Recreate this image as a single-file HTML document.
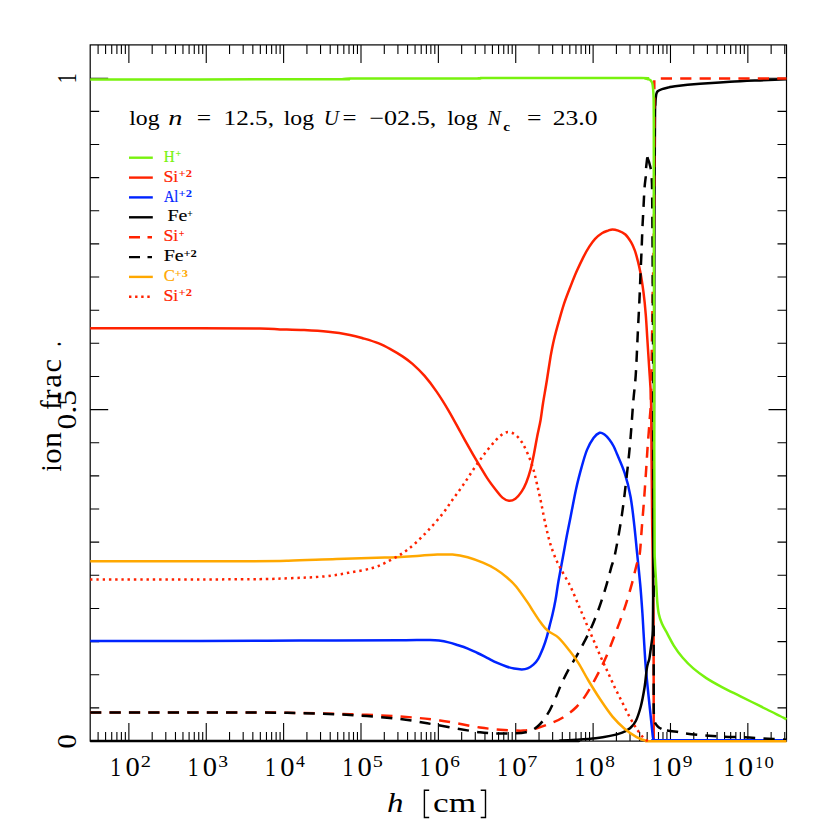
<!DOCTYPE html><html><head><meta charset="utf-8"><title>ion frac</title>
<style>html,body{margin:0;padding:0;background:#fff;}svg{display:block;}text{font-family:"Liberation Serif",serif;}</style></head><body>
<svg width="830" height="830" viewBox="0 0 830 830">
<rect width="830" height="830" fill="#fff"/>
<path d="M98.10,44.9v9M98.10,741.1v-9M105.59,44.9v9M105.59,741.1v-9M111.72,44.9v9M111.72,741.1v-9M116.90,44.9v9M116.90,741.1v-9M121.39,44.9v9M121.39,741.1v-9M125.34,44.9v9M125.34,741.1v-9M128.88,44.9v18M128.88,741.1v-18M152.18,44.9v9M152.18,741.1v-9M165.80,44.9v9M165.80,741.1v-9M175.47,44.9v9M175.47,741.1v-9M182.96,44.9v9M182.96,741.1v-9M189.09,44.9v9M189.09,741.1v-9M194.27,44.9v9M194.27,741.1v-9M198.76,44.9v9M198.76,741.1v-9M202.71,44.9v9M202.71,741.1v-9M206.25,44.9v18M206.25,741.1v-18M229.55,44.9v9M229.55,741.1v-9M243.17,44.9v9M243.17,741.1v-9M252.84,44.9v9M252.84,741.1v-9M260.33,44.9v9M260.33,741.1v-9M266.46,44.9v9M266.46,741.1v-9M271.64,44.9v9M271.64,741.1v-9M276.13,44.9v9M276.13,741.1v-9M280.08,44.9v9M280.08,741.1v-9M283.62,44.9v18M283.62,741.1v-18M306.92,44.9v9M306.92,741.1v-9M320.54,44.9v9M320.54,741.1v-9M330.21,44.9v9M330.21,741.1v-9M337.70,44.9v9M337.70,741.1v-9M343.83,44.9v9M343.83,741.1v-9M349.01,44.9v9M349.01,741.1v-9M353.50,44.9v9M353.50,741.1v-9M357.45,44.9v9M357.45,741.1v-9M361.00,44.9v18M361.00,741.1v-18M384.29,44.9v9M384.29,741.1v-9M397.91,44.9v9M397.91,741.1v-9M407.58,44.9v9M407.58,741.1v-9M415.07,44.9v9M415.07,741.1v-9M421.20,44.9v9M421.20,741.1v-9M426.38,44.9v9M426.38,741.1v-9M430.87,44.9v9M430.87,741.1v-9M434.82,44.9v9M434.82,741.1v-9M438.37,44.9v18M438.37,741.1v-18M461.66,44.9v9M461.66,741.1v-9M475.28,44.9v9M475.28,741.1v-9M484.95,44.9v9M484.95,741.1v-9M492.44,44.9v9M492.44,741.1v-9M498.57,44.9v9M498.57,741.1v-9M503.75,44.9v9M503.75,741.1v-9M508.24,44.9v9M508.24,741.1v-9M512.19,44.9v9M512.19,741.1v-9M515.74,44.9v18M515.74,741.1v-18M539.03,44.9v9M539.03,741.1v-9M552.65,44.9v9M552.65,741.1v-9M562.32,44.9v9M562.32,741.1v-9M569.81,44.9v9M569.81,741.1v-9M575.94,44.9v9M575.94,741.1v-9M581.12,44.9v9M581.12,741.1v-9M585.61,44.9v9M585.61,741.1v-9M589.56,44.9v9M589.56,741.1v-9M593.11,44.9v18M593.11,741.1v-18M616.40,44.9v9M616.40,741.1v-9M630.02,44.9v9M630.02,741.1v-9M639.69,44.9v9M639.69,741.1v-9M647.18,44.9v9M647.18,741.1v-9M653.31,44.9v9M653.31,741.1v-9M658.49,44.9v9M658.49,741.1v-9M662.98,44.9v9M662.98,741.1v-9M666.93,44.9v9M666.93,741.1v-9M670.48,44.9v18M670.48,741.1v-18M693.77,44.9v9M693.77,741.1v-9M707.39,44.9v9M707.39,741.1v-9M717.06,44.9v9M717.06,741.1v-9M724.55,44.9v9M724.55,741.1v-9M730.68,44.9v9M730.68,741.1v-9M735.86,44.9v9M735.86,741.1v-9M740.35,44.9v9M740.35,741.1v-9M744.30,44.9v9M744.30,741.1v-9M747.85,44.9v18M747.85,741.1v-18M771.14,44.9v9M771.14,741.1v-9M784.76,44.9v9M784.76,741.1v-9M90.2,741.00h18M786.5,741.00h-18M90.2,707.86h9M786.5,707.86h-9M90.2,674.72h9M786.5,674.72h-9M90.2,641.58h9M786.5,641.58h-9M90.2,608.44h9M786.5,608.44h-9M90.2,575.30h9M786.5,575.30h-9M90.2,542.16h9M786.5,542.16h-9M90.2,509.02h9M786.5,509.02h-9M90.2,475.88h9M786.5,475.88h-9M90.2,442.74h9M786.5,442.74h-9M90.2,409.60h18M786.5,409.60h-18M90.2,376.46h9M786.5,376.46h-9M90.2,343.32h9M786.5,343.32h-9M90.2,310.18h9M786.5,310.18h-9M90.2,277.04h9M786.5,277.04h-9M90.2,243.90h9M786.5,243.90h-9M90.2,210.76h9M786.5,210.76h-9M90.2,177.62h9M786.5,177.62h-9M90.2,144.48h9M786.5,144.48h-9M90.2,111.34h9M786.5,111.34h-9M90.2,78.20h18M786.5,78.20h-18" stroke="#000" stroke-width="1.1" fill="none"/>
<rect x="90.2" y="44.9" width="696.3" height="696.2" fill="none" stroke="#000" stroke-width="1.2"/>
<g fill="none" stroke-linejoin="round" stroke-linecap="butt">
<path d="M90.2,328.2 C108.5,328.2 171.7,328.1 200.0,328.2 C228.3,328.3 246.7,328.4 260.0,328.6 C273.3,328.8 272.6,329.1 280.0,329.4 C287.4,329.6 296.1,329.7 304.1,330.1 C312.1,330.5 320.6,331.0 328.2,331.8 C335.8,332.6 343.9,333.8 349.9,334.9 C355.9,336.0 359.5,337.2 364.3,338.6 C369.1,340.0 374.4,341.6 378.8,343.4 C383.2,345.2 386.8,347.2 390.8,349.4 C394.8,351.6 399.3,354.2 402.9,356.6 C406.5,359.0 408.9,360.7 412.5,363.9 C416.1,367.1 420.6,371.3 424.6,375.9 C428.6,380.5 432.6,385.8 436.6,391.6 C440.6,397.4 444.7,404.0 448.7,410.8 C452.7,417.6 456.7,425.3 460.7,432.5 C464.7,439.7 469.6,448.6 472.8,454.2 C476.0,459.8 477.6,462.3 480.0,466.3 C482.4,470.3 484.6,474.2 487.2,478.1 C489.8,482.1 493.4,486.8 495.9,490.0 C498.4,493.2 500.2,495.8 502.4,497.6 C504.6,499.4 506.7,500.6 508.9,500.8 C511.1,501.0 513.2,500.3 515.4,498.7 C517.6,497.1 520.1,493.8 521.9,491.1 C523.7,488.4 524.8,486.0 526.3,482.4 C527.8,478.8 529.3,474.1 530.6,469.4 C531.9,464.7 532.8,459.6 533.9,454.2 C535.0,448.8 536.0,442.6 537.1,436.9 C538.2,431.2 539.6,425.7 540.6,420.0 C541.6,414.3 542.0,409.4 543.1,402.7 C544.2,395.9 545.8,387.2 547.0,379.5 C548.2,371.8 549.5,363.0 550.6,356.4 C551.8,349.8 552.5,345.9 553.9,340.0 C555.3,334.1 557.2,327.2 558.9,321.2 C560.6,315.2 562.1,309.7 564.0,303.9 C565.9,298.1 568.3,292.1 570.5,286.5 C572.7,280.9 574.8,275.5 577.0,270.6 C579.2,265.7 581.5,260.9 583.5,256.9 C585.5,252.9 587.4,249.7 589.3,246.7 C591.2,243.7 592.9,241.1 595.1,238.8 C597.3,236.5 600.1,234.4 602.3,233.0 C604.5,231.6 606.4,231.2 608.1,230.6 C609.8,230.0 610.7,229.4 612.4,229.4 C614.1,229.4 616.0,229.8 618.2,230.6 C620.4,231.4 623.2,232.5 625.4,234.5 C627.6,236.5 629.6,239.8 631.2,242.4 C632.8,245.1 633.7,247.4 634.8,250.4 C635.9,253.4 636.7,256.6 637.7,260.5 C638.7,264.4 639.6,268.2 640.6,273.5 C641.6,278.8 642.6,285.6 643.5,292.3 C644.4,299.1 645.1,306.1 645.7,314.0 C646.4,321.9 646.8,331.0 647.4,340.0 C648.0,349.0 648.6,358.0 649.2,368.0 C649.8,378.0 650.6,384.7 651.0,400.0 C651.4,415.3 651.4,439.2 651.6,460.0 C651.8,480.8 652.0,505.0 652.2,525.0 C652.4,545.0 652.8,562.5 653.0,580.0 C653.2,597.5 653.5,603.2 653.6,630.0 C653.7,656.8 653.7,722.5 653.7,741.0" stroke="#FF2200" stroke-width="2.5"/>
<path d="M90.2,641.0 C108.5,641.0 165.0,641.1 200.0,641.0 C235.0,640.9 266.7,640.7 300.0,640.6 C333.3,640.5 380.0,640.3 400.0,640.2 C420.0,640.1 415.0,640.0 420.0,640.0 C425.0,640.0 426.9,639.9 430.0,640.0 C433.1,640.1 435.8,640.2 438.9,640.6 C442.0,641.0 445.4,641.6 448.6,642.4 C451.8,643.2 455.0,644.3 458.2,645.3 C461.4,646.3 464.6,647.3 467.8,648.6 C471.0,649.9 474.3,651.5 477.5,653.0 C480.7,654.5 483.9,656.2 487.1,657.8 C490.3,659.4 493.5,661.2 496.7,662.7 C499.9,664.2 503.5,665.5 506.4,666.5 C509.3,667.5 511.5,668.1 514.1,668.6 C516.7,669.1 519.5,669.4 521.8,669.4 C524.0,669.4 525.7,669.2 527.6,668.4 C529.5,667.6 531.6,666.2 533.4,664.6 C535.2,663.0 536.6,661.5 538.2,658.8 C539.8,656.1 541.5,651.9 543.0,648.2 C544.5,644.5 545.8,640.5 546.9,636.6 C548.0,632.8 548.8,629.0 549.8,625.1 C550.8,621.2 551.8,617.7 552.7,613.5 C553.7,609.3 554.5,605.4 555.5,600.0 C556.5,594.6 557.2,588.3 558.5,581.0 C559.8,573.7 561.6,564.2 563.1,556.1 C564.6,548.0 566.0,539.9 567.5,532.3 C569.0,524.7 570.4,517.8 571.8,510.6 C573.2,503.4 574.5,496.1 576.1,488.9 C577.7,481.7 579.8,473.7 581.6,467.2 C583.4,460.7 585.0,454.8 587.0,449.9 C589.0,445.0 591.4,440.9 593.5,438.0 C595.6,435.1 597.8,433.4 599.6,432.8 C601.4,432.2 602.9,433.4 604.5,434.5 C606.1,435.6 607.8,437.6 609.3,439.5 C610.8,441.4 612.2,443.6 613.5,446.0 C614.8,448.4 615.1,449.5 617.0,454.0 C618.9,458.5 622.5,466.1 624.7,473.2 C627.0,480.3 628.9,487.7 630.5,496.4 C632.1,505.1 633.2,515.7 634.3,525.3 C635.4,534.9 636.2,544.4 637.2,554.2 C638.2,564.0 639.3,574.3 640.2,584.1 C641.1,593.9 641.8,604.5 642.4,613.0 C643.0,621.5 643.1,625.7 643.7,635.0 C644.3,644.3 644.9,657.2 645.9,668.9 C646.9,680.6 648.4,694.4 649.5,705.0 C650.6,715.6 651.8,727.0 652.4,732.5 C653.0,738.0 652.8,737.1 653.1,738.3 C653.4,739.5 653.7,739.6 654.2,739.9 C654.7,740.2 648.4,740.2 656.0,740.2 C663.6,740.2 678.2,740.2 700.0,740.2 C721.8,740.2 772.1,740.2 786.5,740.2" stroke="#0024FF" stroke-width="2.5"/>
<path d="M90.2,741.0 C165.2,741.0 461.7,741.1 540.0,741.0 C618.3,740.9 553.9,740.8 560.0,740.6 C566.1,740.4 570.4,740.2 576.4,739.8 C582.4,739.4 590.1,738.9 595.7,738.3 C601.3,737.6 605.7,736.8 610.1,735.9 C614.5,735.0 618.9,733.9 622.2,732.6 C625.5,731.3 627.7,730.1 630.0,728.2 C632.3,726.3 634.0,724.6 635.8,721.0 C637.6,717.4 639.3,712.0 640.8,706.5 C642.2,701.0 643.5,693.8 644.5,687.7 C645.5,681.6 646.1,674.0 646.6,670.0 C647.1,666.0 647.3,665.9 647.8,664.0 C648.2,662.1 648.8,661.4 649.3,658.9 C649.8,656.4 650.2,652.4 650.7,649.3 C651.2,646.1 651.6,643.2 652.0,640.0 C652.4,636.8 652.6,636.7 652.8,630.0 C653.0,623.3 653.0,615.0 653.1,600.0 C653.2,585.0 653.1,573.3 653.3,540.0 C653.4,506.7 653.8,456.7 654.0,400.0 C654.2,343.3 654.3,247.5 654.5,200.0 C654.7,152.5 654.9,130.8 655.0,115.0 C655.1,99.2 655.3,107.7 655.4,105.0 C655.5,102.3 655.5,100.6 655.7,98.7 C655.9,96.8 656.1,95.0 656.4,93.8 C656.7,92.5 656.8,92.0 657.7,91.2 C658.6,90.4 660.2,89.7 662.0,89.1 C663.8,88.5 666.5,87.9 668.7,87.4 C670.9,86.9 669.8,86.8 675.0,86.2 C680.2,85.6 690.8,84.5 700.0,83.8 C709.2,83.1 720.0,82.4 730.0,81.8 C740.0,81.2 750.6,80.8 760.0,80.4 C769.4,80.0 782.1,79.5 786.5,79.3" stroke="#000" stroke-width="2.5"/>
<path d="M90.2,712.5 C116.8,712.5 215.0,712.4 250.0,712.5 C285.0,712.6 283.3,712.7 300.0,713.0 C316.7,713.3 333.3,713.6 350.0,714.2 C366.7,714.8 385.0,715.5 400.0,716.5 C415.0,717.5 426.7,718.7 440.0,720.5 C453.3,722.3 469.3,725.9 480.0,727.5 C490.7,729.1 496.9,729.4 504.1,729.9 C511.3,730.4 518.2,730.8 523.4,730.6 C528.6,730.4 530.6,730.0 535.4,728.7 C540.2,727.4 547.5,724.7 552.3,722.7 C557.1,720.7 560.3,719.2 564.3,716.6 C568.3,714.0 572.8,710.6 576.4,707.0 C580.0,703.4 582.8,699.7 586.0,694.9 C589.2,690.1 592.5,684.1 595.7,678.1 C598.9,672.1 602.1,666.0 605.3,658.8 C608.5,651.6 611.7,643.1 614.9,634.7 C618.1,626.3 621.8,616.6 624.6,608.2 C627.4,599.8 629.8,591.3 631.8,584.1 C633.8,576.9 635.3,569.8 636.6,564.8 C637.9,559.8 638.8,560.8 639.7,554.2 C640.6,547.6 641.2,534.9 642.0,525.3 C642.8,515.7 643.6,506.0 644.3,496.4 C645.0,486.8 645.7,476.2 646.3,467.5 C646.9,458.8 647.2,452.3 647.8,444.3 C648.4,436.3 649.2,426.7 649.7,419.3 C650.2,411.9 650.5,413.2 650.9,400.0 C651.3,386.8 651.7,356.7 652.0,340.0 C652.3,323.3 652.4,314.2 652.6,300.0 C652.9,285.8 653.2,271.7 653.5,255.0 C653.8,238.3 654.0,222.5 654.1,200.0 C654.2,177.5 654.3,140.0 654.3,120.0 C654.3,100.0 654.3,86.8 654.3,80.2" stroke="#FF2200" stroke-width="2.5" stroke-dasharray="11.2 8.2"/>
<path d="M660.8,78.6 L786.5,78.6" stroke="#FF2200" stroke-width="2.5" stroke-dasharray="11.2 8.2"/>
<path d="M90.2,712.5 C116.8,712.5 215.0,712.4 250.0,712.5 C285.0,712.6 283.3,712.8 300.0,713.2 C316.7,713.6 333.3,714.0 350.0,715.0 C366.7,716.0 385.0,717.2 400.0,719.0 C415.0,720.8 426.7,723.3 440.0,725.5 C453.3,727.7 469.3,731.0 480.0,732.3 C490.7,733.6 496.5,733.5 504.1,733.5 C511.7,733.5 520.2,733.5 525.8,732.3 C531.4,731.1 534.2,729.3 537.8,726.3 C541.4,723.3 544.7,718.6 547.5,714.2 C550.3,709.8 552.3,705.0 554.7,699.8 C557.1,694.6 559.5,688.1 561.9,682.9 C564.3,677.7 566.8,672.8 569.2,668.4 C571.6,664.0 574.0,660.6 576.4,656.4 C578.8,652.2 581.2,647.7 583.6,643.1 C586.0,638.5 588.4,634.1 590.8,628.7 C593.2,623.3 595.7,617.2 598.1,610.6 C600.5,604.0 603.1,596.1 605.3,588.9 C607.5,581.7 609.7,573.0 611.3,567.2 C612.9,561.4 613.2,562.8 615.0,554.2 C616.8,545.6 619.9,528.5 621.8,515.6 C623.7,502.8 625.1,490.0 626.6,477.1 C628.1,464.2 629.4,451.4 630.5,438.5 C631.6,425.6 632.5,410.5 633.4,400.0 C634.3,389.5 635.0,386.2 635.7,375.7 C636.4,365.2 637.0,350.0 637.6,337.1 C638.2,324.2 639.0,309.5 639.5,298.6 C640.0,287.7 640.2,280.5 640.6,271.5 C641.0,262.5 641.5,252.5 641.8,244.6 C642.1,236.7 642.3,230.5 642.6,224.3 C642.9,218.1 643.2,213.7 643.5,207.5 C643.8,201.3 644.2,192.4 644.6,187.2 C645.0,182.0 645.5,179.5 645.8,176.3 C646.0,173.1 645.9,171.1 646.1,167.9 C646.4,164.7 647.1,159.1 647.3,157.3" stroke="#000" stroke-width="2.5" stroke-dasharray="11.2 8.2"/>
<path d="M647.3,157.3 L649.2,162.5 L650.9,169.1" stroke="#000" stroke-width="2.5"/>
<path d="M651.7,178.1 C651.8,180.0 652.0,181.9 652.1,189.6 C652.2,197.2 652.3,209.8 652.4,224.0 C652.5,238.2 652.6,245.7 652.7,275.0 C652.9,304.3 653.1,345.8 653.3,400.0 C653.5,454.2 653.6,566.7 653.7,600.0" stroke="#000" stroke-width="2.5" stroke-dasharray="11.2 8.2"/>
<path d="M653.7,625.4 C653.7,637.8 653.7,685.1 653.7,700.0 C653.7,714.9 653.8,711.4 653.9,715.0 C654.0,718.6 654.1,719.8 654.6,721.5 C655.1,723.2 656.0,724.3 656.7,725.3 C657.4,726.3 658.1,726.9 658.9,727.5 C659.7,728.1 661.1,728.6 661.5,728.8" stroke="#000" stroke-width="2.5" stroke-dasharray="11.2 8.2"/>
<path d="M666.9,730.4 C668.6,730.6 673.9,731.3 677.0,731.8 C680.1,732.3 681.0,732.8 685.7,733.4 C690.4,734.0 698.6,734.9 705.0,735.4 C711.4,735.9 717.4,736.3 724.0,736.6 C730.6,736.9 738.1,737.0 744.6,737.3 C751.1,737.6 756.3,738.0 763.3,738.4 C770.3,738.8 782.6,739.6 786.5,739.8" stroke="#000" stroke-width="2.5" stroke-dasharray="11.2 8.2"/>
<path d="M90.2,561.3 C115.2,561.3 207.0,561.3 240.0,561.2 C273.0,561.1 272.1,561.1 288.2,560.7 C304.3,560.3 320.3,559.5 336.4,559.0 C352.5,558.5 370.7,558.1 384.6,557.6 C398.5,557.1 411.2,556.2 420.0,555.7 C428.8,555.2 431.9,554.8 437.3,554.6 C442.7,554.4 447.4,554.2 452.5,554.6 C457.6,555.0 462.6,555.9 467.7,557.2 C472.8,558.6 478.2,560.7 482.9,562.7 C487.6,564.7 491.9,566.7 495.9,569.2 C499.9,571.7 503.6,574.6 507.0,577.5 C510.4,580.4 512.6,582.2 516.1,586.5 C519.6,590.8 525.3,599.2 528.2,603.4 C531.1,607.6 531.2,608.3 533.4,611.6 C535.5,614.9 538.7,619.9 541.1,623.1 C543.5,626.3 544.9,628.4 547.8,630.8 C550.7,633.2 554.8,634.3 558.4,637.6 C562.0,640.9 566.2,646.5 569.6,650.8 C573.0,655.1 575.7,658.6 578.8,663.6 C581.9,668.6 584.8,674.5 588.4,680.5 C592.0,686.5 596.5,693.8 600.5,699.8 C604.5,705.8 608.5,711.8 612.5,716.6 C616.5,721.4 620.6,725.3 624.6,728.7 C628.6,732.1 633.0,735.1 636.6,737.1 C640.2,739.1 642.4,740.0 646.3,740.7 C650.2,741.4 636.6,741.1 660.0,741.2 C683.4,741.3 765.4,741.2 786.5,741.2" stroke="#FFA800" stroke-width="2.5"/>
<path d="M90.2,579.5 C115.2,579.5 207.0,579.5 240.0,579.3 C273.0,579.1 274.1,578.8 288.2,578.3 C302.2,577.8 314.3,577.3 324.3,576.4 C334.3,575.5 340.4,574.2 348.4,572.8 C356.4,571.4 365.7,570.0 372.5,568.0 C379.3,566.0 384.2,563.3 389.4,560.7 C394.6,558.1 399.5,555.3 403.9,552.3 C408.3,549.3 411.9,546.3 415.9,542.7 C419.9,539.1 423.7,535.2 428.0,530.6 C432.3,526.0 437.6,520.0 441.7,514.9 C445.8,509.8 448.9,504.9 452.5,499.8 C456.1,494.8 459.8,489.9 463.4,484.6 C467.0,479.4 470.6,473.6 474.2,468.3 C477.8,463.1 481.5,457.8 485.1,453.1 C488.7,448.4 492.8,443.4 495.9,440.1 C499.0,436.9 501.3,434.9 503.5,433.6 C505.7,432.3 506.9,431.9 508.9,432.1 C510.9,432.3 513.2,433.0 515.4,434.7 C517.6,436.4 519.9,439.2 521.9,442.3 C523.9,445.4 525.6,449.0 527.4,453.1 C529.2,457.2 531.2,461.9 532.8,467.2 C534.4,472.4 535.7,478.5 537.1,484.6 C538.5,490.8 540.0,497.2 541.4,504.1 C542.8,511.0 544.3,519.3 545.8,525.8 C547.2,532.3 548.5,537.7 550.1,543.1 C551.7,548.5 553.7,553.9 555.5,558.3 C557.3,562.6 559.0,565.4 561.0,569.2 C563.0,573.0 565.7,577.7 567.5,581.0 C569.3,584.3 569.7,584.8 571.6,588.9 C573.5,593.0 576.4,600.2 578.8,605.8 C581.2,611.4 583.6,617.1 586.0,622.7 C588.4,628.3 590.9,633.9 593.3,639.5 C595.7,645.1 598.1,651.0 600.5,656.4 C602.9,661.8 605.3,666.8 607.7,672.0 C610.1,677.2 612.5,682.7 614.9,687.7 C617.3,692.7 619.8,697.4 622.2,702.2 C624.6,707.0 627.0,712.2 629.4,716.6 C631.8,721.0 634.2,725.1 636.6,728.7 C639.0,732.3 642.0,736.2 643.9,738.3 C645.8,740.3 647.3,740.5 648.0,741.0" stroke="#FF2200" stroke-width="2.5" stroke-dasharray="2.4 3.87"/>
<path d="M90.2,79.4 C108.5,79.4 158.7,79.4 200.0,79.4 C241.3,79.4 314.3,79.3 338.0,79.3 C361.7,79.3 340.0,79.3 342.0,79.2 C344.0,79.1 348.0,78.6 350.0,78.5 C352.0,78.4 345.7,78.4 354.0,78.4 C362.3,78.4 380.0,78.4 400.0,78.4 C420.0,78.4 461.0,78.4 474.0,78.4 C487.0,78.4 476.5,78.4 478.0,78.3 C479.5,78.2 481.5,78.0 483.0,78.0 C484.5,78.0 474.2,78.0 487.0,78.0 C499.8,78.0 534.3,78.0 560.0,78.0 C585.7,78.0 626.8,77.9 641.0,78.0 C655.2,78.1 643.8,78.3 645.0,78.5 C646.2,78.7 647.1,78.9 648.0,79.2 C648.9,79.5 649.8,79.7 650.5,80.3 C651.2,80.9 651.8,81.7 652.2,83.0 C652.6,84.3 652.8,86.0 653.0,88.0 C653.2,90.0 653.4,92.2 653.5,95.0 C653.6,97.8 653.7,100.2 653.7,105.0 C653.7,109.8 653.7,108.2 653.8,124.0 C653.8,139.8 653.8,170.7 653.8,200.0 C653.8,229.3 654.0,263.3 654.0,300.0 C654.1,336.7 654.1,380.0 654.2,420.0 C654.3,460.0 654.5,516.7 654.6,540.0 C654.7,563.3 654.6,553.0 654.9,560.0 C655.1,567.0 655.7,574.5 656.1,581.7 C656.5,588.9 656.9,597.9 657.4,603.3 C657.9,608.7 658.1,610.8 658.9,614.2 C659.6,617.6 660.5,620.2 661.9,623.5 C663.3,626.8 665.3,630.0 667.3,633.7 C669.3,637.4 671.3,641.6 673.8,645.6 C676.3,649.6 679.2,653.7 682.5,657.5 C685.8,661.3 689.3,665.0 693.3,668.4 C697.3,671.8 701.6,675.0 706.3,678.1 C711.0,681.2 716.4,684.1 721.5,686.8 C726.6,689.5 731.6,691.9 736.7,694.4 C741.8,696.9 746.9,699.5 751.9,702.0 C756.9,704.5 762.3,707.2 767.0,709.5 C771.7,711.8 776.8,714.4 780.0,716.0 C783.2,717.6 785.4,718.8 786.5,719.3" stroke="#78F20E" stroke-width="2.5"/>
</g>
<path d="M129,157.7H152.8" stroke="#78F20E" stroke-width="2.4"/>
<path d="M129,177.6H152.8" stroke="#FF2200" stroke-width="2.4"/>
<path d="M129,197.4H152.8" stroke="#0024FF" stroke-width="2.4"/>
<path d="M129,217.3H152.8" stroke="#000" stroke-width="2.4"/>
<path d="M129,237.2h11M147.5,237.2h4.5" stroke="#FF2200" stroke-width="2.4"/>
<path d="M129,257.1h11M147.5,257.1h4.5" stroke="#000" stroke-width="2.4"/>
<path d="M129,276.9H152.8" stroke="#FFA800" stroke-width="2.4"/>
<path d="M129,296.8H152.8" stroke="#FF2200" stroke-width="2.4" stroke-dasharray="2.4 3.7"/>
<path d="M429.2,790.3H424.4V817.5H429.2M480.7,790.3H485.5V817.5H480.7" fill="none" stroke="#000" stroke-width="1.4"/>
<text transform="translate(163.63,161.80) scale(0.9358,1)" font-size="16.2" fill="#78F20E" stroke="#78F20E" stroke-width="0.2">H</text>
<text transform="translate(175.62,157.30) scale(0.9600,1)" font-size="10.5" font-weight="bold" fill="#78F20E">+</text>
<text transform="translate(163.39,181.67) scale(1.1057,1)" font-size="16.2" fill="#FF2200" stroke="#FF2200" stroke-width="0.2">Si</text>
<text transform="translate(178.60,177.17) scale(1.1961,1)" font-size="10.5" font-weight="bold" fill="#FF2200">+2</text>
<text transform="translate(163.91,201.54) scale(0.8861,1)" font-size="16.2" fill="#0024FF" stroke="#0024FF" stroke-width="0.2">Al</text>
<text transform="translate(178.60,197.04) scale(1.1961,1)" font-size="10.5" font-weight="bold" fill="#0024FF">+2</text>
<text transform="translate(167.41,221.41) scale(1.2280,1)" font-size="16.2" stroke="#000" stroke-width="0.15">Fe</text>
<text transform="translate(187.24,216.91) scale(0.9200,1)" font-size="10.5" font-weight="bold">+</text>
<text transform="translate(163.39,241.28) scale(1.1057,1)" font-size="16.2" fill="#FF2200" stroke="#FF2200" stroke-width="0.2">Si</text>
<text transform="translate(178.72,236.78) scale(0.9600,1)" font-size="10.5" font-weight="bold" fill="#FF2200">+</text>
<text transform="translate(163.81,261.15) scale(1.2280,1)" font-size="16.2" stroke="#000" stroke-width="0.15">Fe</text>
<text transform="translate(183.40,256.65) scale(1.1961,1)" font-size="10.5" font-weight="bold">+2</text>
<text transform="translate(163.68,281.02) scale(1.0319,1)" font-size="16.2" fill="#FFA800" stroke="#FFA800" stroke-width="0.2">C</text>
<text transform="translate(174.61,276.52) scale(1.1846,1)" font-size="10.5" font-weight="bold" fill="#FFA800">+3</text>
<text transform="translate(163.39,300.89) scale(1.1057,1)" font-size="16.2" fill="#FF2200" stroke="#FF2200" stroke-width="0.2">Si</text>
<text transform="translate(178.60,296.39) scale(1.1961,1)" font-size="10.5" font-weight="bold" fill="#FF2200">+2</text>
<text transform="translate(129.24,124.80) scale(1.1399,1)" font-size="20.8">log</text>
<text transform="translate(283.74,124.80) scale(1.1399,1)" font-size="20.8">log</text>
<text transform="translate(447.24,124.80) scale(1.1399,1)" font-size="20.8">log</text>
<text transform="translate(168.35,124.80) scale(1.3596,1)" font-size="20.8" font-style="italic">n</text>
<text transform="translate(196.78,124.80) scale(1.2245,1)" font-size="20.8">=</text>
<text transform="translate(342.51,124.80) scale(1.1939,1)" font-size="20.8">=</text>
<text transform="translate(526.97,124.80) scale(1.2347,1)" font-size="20.8">=</text>
<text transform="translate(223.52,124.80) scale(1.2130,1)" font-size="20.8">12.5,</text>
<text transform="translate(323.77,124.80) scale(1.0140,1)" font-size="20.8" font-style="italic">U</text>
<text transform="translate(369.24,124.80) scale(1.2581,1)" font-size="20.8">−02.5,</text>
<text transform="translate(487.69,124.80) scale(0.9536,1)" font-size="20.8" font-style="italic">N</text>
<text transform="translate(503.29,130.50) scale(1.2766,1)" font-size="12" font-weight="bold">c</text>
<text transform="translate(552.79,124.80) scale(1.2299,1)" font-size="20.8">23.0</text>
<text transform="translate(110.32,775.70) scale(0.7674,1)" font-size="27.8">1</text>
<text transform="translate(125.39,775.70) scale(1.0277,1)" font-size="27.8">0</text>
<text transform="translate(140.82,767.40) scale(1.2388,1)" font-size="16.5">2</text>
<text transform="translate(187.69,775.70) scale(0.7674,1)" font-size="27.8">1</text>
<text transform="translate(202.76,775.70) scale(1.0277,1)" font-size="27.8">0</text>
<text transform="translate(218.23,767.40) scale(1.1857,1)" font-size="16.5">3</text>
<text transform="translate(265.06,775.70) scale(0.7674,1)" font-size="27.8">1</text>
<text transform="translate(280.13,775.70) scale(1.0277,1)" font-size="27.8">0</text>
<text transform="translate(296.10,767.40) scale(1.0779,1)" font-size="16.5">4</text>
<text transform="translate(342.43,775.70) scale(0.7674,1)" font-size="27.8">1</text>
<text transform="translate(357.50,775.70) scale(1.0277,1)" font-size="27.8">0</text>
<text transform="translate(372.70,767.40) scale(1.2206,1)" font-size="16.5">5</text>
<text transform="translate(419.80,775.70) scale(0.7674,1)" font-size="27.8">1</text>
<text transform="translate(434.87,775.70) scale(1.0277,1)" font-size="27.8">0</text>
<text transform="translate(450.35,767.40) scale(1.1690,1)" font-size="16.5">6</text>
<text transform="translate(497.17,775.70) scale(0.7674,1)" font-size="27.8">1</text>
<text transform="translate(512.24,775.70) scale(1.0277,1)" font-size="27.8">0</text>
<text transform="translate(527.31,767.40) scale(1.2206,1)" font-size="16.5">7</text>
<text transform="translate(574.54,775.70) scale(0.7674,1)" font-size="27.8">1</text>
<text transform="translate(589.61,775.70) scale(1.0277,1)" font-size="27.8">0</text>
<text transform="translate(605.20,767.40) scale(1.1690,1)" font-size="16.5">8</text>
<text transform="translate(651.91,775.70) scale(0.7674,1)" font-size="27.8">1</text>
<text transform="translate(666.98,775.70) scale(1.0277,1)" font-size="27.8">0</text>
<text transform="translate(682.69,767.40) scale(1.1690,1)" font-size="16.5">9</text>
<text transform="translate(723.74,775.70) scale(0.7866,1)" font-size="27.8">1</text>
<text transform="translate(738.22,775.70) scale(1.0689,1)" font-size="27.8">0</text>
<text transform="translate(755.41,767.60) scale(0.8814,1)" font-size="16.5">1</text>
<text transform="translate(764.57,767.60) scale(1.1268,1)" font-size="16.5">0</text>
<text transform="translate(386.97,811.50) scale(1.2190,1)" font-size="27" font-style="italic">h</text>
<text transform="translate(433.10,811.50) scale(1.3045,1)" font-size="27">cm</text>
<text transform="translate(75.80,83.14) rotate(-90) scale(0.7176,1)" font-size="27.5">1</text>
<text transform="translate(75.70,429.39) rotate(-90) scale(1.1514,1)" font-size="27.5">0.5</text>
<text transform="translate(75.80,748.39) rotate(-90) scale(1.0390,1)" font-size="27.5">0</text>
<text transform="translate(60.70,471.40) rotate(-90) scale(0.8828,1)" font-size="29">i</text>
<text transform="translate(60.70,463.76) rotate(-90) scale(1.0640,1)" font-size="29">o</text>
<text transform="translate(60.70,448.00) rotate(-90) scale(1.0963,1)" font-size="29">n</text>
<text transform="translate(60.70,409.95) rotate(-90) scale(0.9984,1)" font-size="29">f</text>
<text transform="translate(60.70,399.68) rotate(-90) scale(1.0593,1)" font-size="29">r</text>
<text transform="translate(60.70,387.87) rotate(-90) scale(1.0695,1)" font-size="29">a</text>
<text transform="translate(60.70,372.54) rotate(-90) scale(1.0417,1)" font-size="29">c</text>
<text transform="translate(60.70,346.75) rotate(-90) scale(0.7448,1)" font-size="29">.</text>
</svg></body></html>
